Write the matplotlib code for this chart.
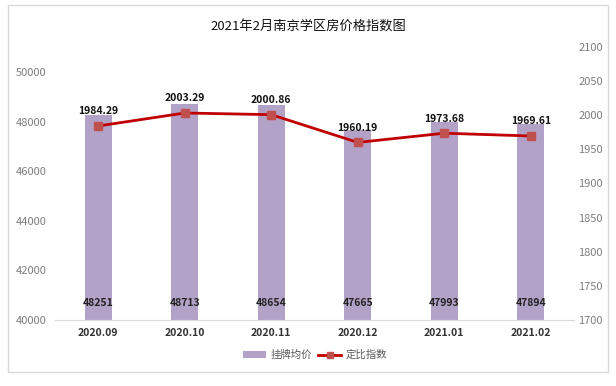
import matplotlib
matplotlib.use("Agg")
import matplotlib.pyplot as plt
from matplotlib.patches import Rectangle
from matplotlib.lines import Line2D
from matplotlib.patches import Patch

plt.rcParams['font.family'] = ['Noto Sans CJK SC', 'DejaVu Sans']

months = ['2020.09', '2020.10', '2020.11', '2020.12', '2021.01', '2021.02']
price = [48251, 48713, 48654, 47665, 47993, 47894]
index = [1984.29, 2003.29, 2000.86, 1960.19, 1973.68, 1969.61]
left_ticks = [40000, 42000, 44000, 46000, 48000, 50000]
right_ticks = [1700, 1750, 1800, 1850, 1900, 1950, 2000, 2050, 2100]

W, H = 616, 386
fig = plt.figure(figsize=(W/100, H/100), dpi=100)
fig.patches.append(Rectangle((8/W, 1 - 372/H), 600/W, 367/H, transform=fig.transFigure,
                             fill=False, edgecolor='#D9D9D9', lw=1))

ax = fig.add_axes([55/W, 1 - 320/H, 519/W, 273/H])
x = list(range(len(months)))
bar_color = '#B3A2C7'
ax.bar(x, price, width=0.31, color=bar_color, zorder=2)
ax.set_ylim(40000, 40000 + 273/24.8*1000)
ax.set_xlim(-0.5, len(months) - 0.5)
ax.set_yticks(left_ticks)
ax.set_xticks(x)
ax.set_xticklabels(months, fontsize=7.5, fontweight='bold', color='#333333')
ax.tick_params(axis='y', length=0, labelsize=8, colors='#7F7F7F', pad=6)
ax.tick_params(axis='x', length=0, pad=6)
for s in ['top', 'right', 'left']:
    ax.spines[s].set_visible(False)
ax.spines['bottom'].set_color('#D9D9D9')
for xi, p in zip(x, price):
    ax.text(xi, 40700, str(p), ha='center', va='center', fontsize=7.5,
            fontweight='bold', color='#222222', zorder=5)

ax2 = ax.twinx()
ax2.plot(x, index, color='#C00000', lw=2, marker='s', markersize=6,
         markerfacecolor='#C0504D', markeredgecolor='#C0504D', zorder=4)
ax2.set_ylim(1700, 2100)
ax2.set_yticks(right_ticks)
ax2.tick_params(axis='y', length=0, labelsize=8, colors='#7F7F7F', pad=3)
for s in ['top', 'right', 'left', 'bottom']:
    ax2.spines[s].set_visible(False)
for xi, v in zip(x, index):
    ax2.text(xi, v + 14, f'{v:.2f}', ha='center', va='bottom', fontsize=7.5,
             fontweight='bold', color='#111111')

fig.text(0.5, 1 - 26/H, '2021年2月南京学区房价格指数图', ha='center', va='center',
         fontsize=9.5, color='#111111')

handles = [Patch(facecolor=bar_color, edgecolor='none'),
           Line2D([0], [0], color='#C00000', lw=2, marker='s', markersize=5,
                  markerfacecolor='#C0504D', markeredgecolor='#C0504D')]
fig.legend(handles, ['挂牌均价', '定比指数'], loc='center', bbox_to_anchor=(315/W, 1 - 355/H),
           ncol=2, frameon=False, fontsize=7.5, labelcolor='#595959',
           handlelength=2.2, handleheight=0.6, columnspacing=0.6, handletextpad=0.4)

fig.savefig('out.png', dpi=100)
